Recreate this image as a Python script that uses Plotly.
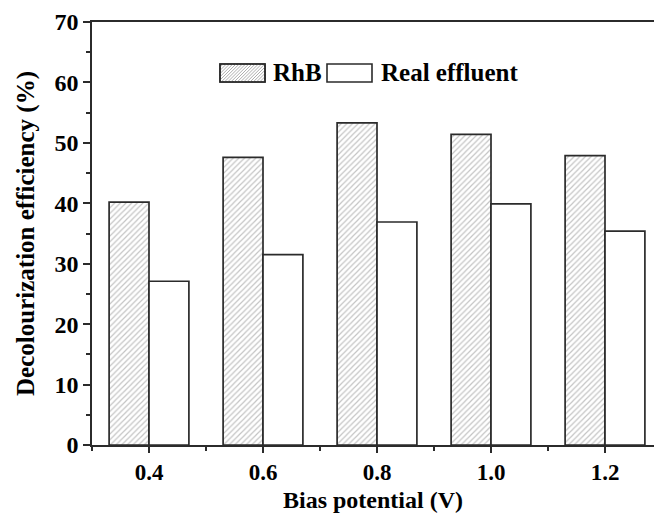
import plotly.graph_objects as go

# ---- data ----
bias_potential = [0.4, 0.6, 0.8, 1.0, 1.2]
rhb_values = [40.2, 47.6, 53.3, 51.4, 47.9]
effluent_values = [27.1, 31.5, 36.9, 39.9, 35.4]
series_names = ["RhB", "Real effluent"]
x_tick_labels = ["0.4", "0.6", "0.8", "1.0", "1.2"]
x_title = "Bias potential (V)"
y_title = "Decolourization efficiency (%)"

# ---- layout constants ----
W, H = 654, 514
ML, MR, MT, MB = 92, 0, 22, 69
FONT = "Liberation Serif, Times New Roman, serif"
EDGE = "#2b2b2b"

fig = go.Figure()
fig.add_trace(go.Bar(
    x=bias_potential, y=rhb_values, name=series_names[0],
    marker=dict(color="white", line=dict(color=EDGE, width=1.7),
                pattern=dict(shape="/", size=4, solidity=0.3,
                             fgcolor="#8a8a8a", bgcolor="white")),
    showlegend=False))
fig.add_trace(go.Bar(
    x=bias_potential, y=effluent_values, name=series_names[1],
    marker=dict(color="white", line=dict(color=EDGE, width=1.7)),
    showlegend=False))

# ---- manual legend (wide swatches like the original) ----
pw, ph = W - ML - MR, H - MT - MB


def px2paper(px, py):
    return (px - ML) / pw, (H - MB - py) / ph


def rect(x0, y0, x1, y1, fill="white"):
    a = px2paper(x0, y1)
    b = px2paper(x1, y0)
    return dict(type="rect", xref="paper", yref="paper",
                x0=a[0], y0=a[1], x1=b[0], y1=b[1],
                line=dict(color=EDGE, width=1.6), fillcolor=fill, layer="above")


def hatch_path(x0, y0, x1, y1, step=3.2):
    # 45-degree "/" lines clipped to rectangle (pixel space), converted to paper
    segs = []
    w, h = x1 - x0, y1 - y0
    c = -h
    while c < w:
        t0 = max(0.0, -c)
        t1 = min(h, w - c)
        if t1 > t0:
            ax, ay = px2paper(x0 + c + t0, y1 - t0)
            bx, by = px2paper(x0 + c + t1, y1 - t1)
            segs.append(f"M{ax},{ay}L{bx},{by}")
        c += step
    return dict(type="path", xref="paper", yref="paper", path="".join(segs),
                line=dict(color="#9a9a9a", width=0.8), layer="above")


sw1 = (220, 64, 265, 82)
sw2 = (327, 64, 372, 82)
shapes = [rect(*sw1), hatch_path(*sw1), rect(*sw1, fill="rgba(0,0,0,0)"), rect(*sw2)]

annotations = []
for name, tx in zip(series_names, [271, 379]):
    ax, ay = px2paper(tx, 73)
    annotations.append(dict(xref="paper", yref="paper", x=ax, y=ay,
                            xanchor="left", yanchor="middle", showarrow=False,
                            text=name,
                            font=dict(family=FONT, size=25, color="black", weight="bold")))

# x-axis title as annotation so it sits at the very bottom like the original
tx, ty = px2paper(373, 515)
annotations.append(dict(xref="paper", yref="paper", x=tx, y=ty,
                        xanchor="center", yanchor="bottom", showarrow=False,
                        text=x_title,
                        font=dict(family=FONT, size=24, color="black", weight="bold")))

fig.update_layout(
    width=W, height=H,
    margin=dict(l=ML, r=MR, t=MT, b=MB),
    paper_bgcolor="white", plot_bgcolor="white",
    barmode="group", bargap=0.3, bargroupgap=0,
    shapes=shapes, annotations=annotations,
    font=dict(family=FONT, color="black"),
    xaxis=dict(
        range=[0.3, 0.3 + (W - ML - MR) / 570.0],
        tickvals=bias_potential, ticktext=x_tick_labels,
        ticks="outside", ticklen=6, tickwidth=1.5, tickcolor=EDGE,
        minor=dict(tickvals=[0.3, 0.5, 0.7, 0.9, 1.1], ticks="outside",
                   ticklen=4, tickwidth=1.5, tickcolor=EDGE),
        showline=True, linecolor=EDGE, linewidth=1.6, mirror=True,
        showgrid=False, zeroline=False,
        tickfont=dict(family=FONT, size=23, color="black", weight="bold"),
    ),
    yaxis=dict(
        range=[0, 70], dtick=10, tick0=0,
        ticks="outside", ticklen=7, tickwidth=1.5, tickcolor=EDGE,
        minor=dict(dtick=5, ticks="outside", ticklen=4, tickwidth=1.5, tickcolor=EDGE),
        showline=True, linecolor=EDGE, linewidth=1.6, mirror=False,
        showgrid=False, zeroline=False,
        tickfont=dict(family=FONT, size=24, color="black", weight="bold"),
        title=dict(text=y_title, standoff=13,
                   font=dict(family=FONT, size=25, color="black", weight="bold")),
    ),
)

fig.write_html("out.html",
               config={"displayModeBar": False},
               post_script="document.body.style.margin='0';document.body.style.overflow='hidden';")
